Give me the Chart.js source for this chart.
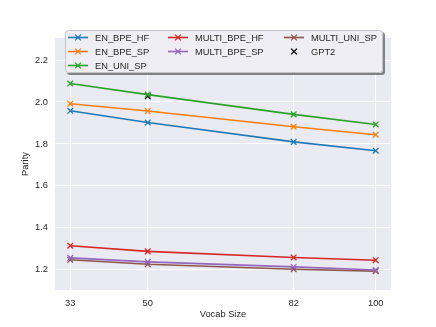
<!DOCTYPE html>
<html>
<head>
<meta charset="utf-8">
<script src="https://cdn.jsdelivr.net/npm/chart.js@4"></script>
<style>
html,body{margin:0;padding:0;background:#fff;}
#wrap{width:436px;height:327px;}
</style>
</head>
<body>
<div id="wrap"><canvas id="c" width="436" height="327"></canvas></div>
<script>
const vocab = [33, 50, 82, 100];
const EN_BPE_HF = [1.958, 1.902, 1.810, 1.768];
const EN_BPE_SP = [1.992, 1.957, 1.882, 1.844];
const EN_UNI_SP = [2.088, 2.035, 1.941, 1.893];
const MULTI_BPE_HF = [1.315, 1.288, 1.259, 1.246];
const MULTI_BPE_SP = [1.257, 1.238, 1.214, 1.199];
const MULTI_UNI_SP = [1.248, 1.227, 1.203, 1.194];
const GPT2_x = [50];
const GPT2_y = [2.027];
const yTicks = [1.2, 1.4, 1.6, 1.8, 2.0, 2.2];

const FONT = "'Liberation Sans', Arial, sans-serif";
const FS = 9.3;

function series(label, vals, color) {
  return {
    label: label,
    data: vals.map((v, i) => ({x: vocab[i], y: v})),
    borderColor: color,
    backgroundColor: color,
    borderWidth: 1.6,
    pointStyle: 'crossRot',
    pointRadius: 4,
    pointHoverRadius: 4,
    pointBorderWidth: 1.3,
    pointBorderColor: color,
    tension: 0,
    fill: false
  };
}

const datasets = [
  series('EN_BPE_HF', EN_BPE_HF, '#1f77b4'),
  series('EN_BPE_SP', EN_BPE_SP, '#ff7f0e'),
  series('EN_UNI_SP', EN_UNI_SP, '#2ca02c'),
  series('MULTI_BPE_HF', MULTI_BPE_HF, '#d62728'),
  series('MULTI_BPE_SP', MULTI_BPE_SP, '#9467bd'),
  series('MULTI_UNI_SP', MULTI_UNI_SP, '#8c564b'),
  Object.assign(series('GPT2', GPT2_y, '#000000'), {
    data: GPT2_x.map((x, i) => ({x: x, y: GPT2_y[i]})),
    showLine: false
  })
];

const bgPlugin = {
  id: 'bgPlugin',
  beforeDraw(chart) {
    const {ctx, chartArea: a} = chart;
    ctx.save();
    ctx.fillStyle = '#EAEAF2';
    ctx.fillRect(a.left, a.top, a.right - a.left, a.bottom - a.top);
    ctx.restore();
  }
};

const legendPlugin = {
  id: 'customLegend',
  afterDraw(chart) {
    const ctx = chart.ctx;
    const bx = 65, by = 30, bw = 318, bh = 43, r = 3;
    function rr(x, y, w, h) {
      ctx.beginPath();
      ctx.moveTo(x + r, y);
      ctx.lineTo(x + w - r, y);
      ctx.quadraticCurveTo(x + w, y, x + w, y + r);
      ctx.lineTo(x + w, y + h - r);
      ctx.quadraticCurveTo(x + w, y + h, x + w - r, y + h);
      ctx.lineTo(x + r, y + h);
      ctx.quadraticCurveTo(x, y + h, x, y + h - r);
      ctx.lineTo(x, y + r);
      ctx.quadraticCurveTo(x, y, x + r, y);
      ctx.closePath();
    }
    ctx.save();
    ctx.fillStyle = 'rgba(0,0,0,0.45)';
    rr(bx + 2, by + 2, bw, bh);
    ctx.fill();
    ctx.fillStyle = '#EEEEF4';
    rr(bx, by, bw, bh);
    ctx.fill();
    ctx.strokeStyle = '#c4c4c8';
    ctx.lineWidth = 1;
    rr(bx + 0.5, by + 0.5, bw - 1, bh - 1);
    ctx.stroke();

    const cols = [68, 168, 284];
    const rows = [37.5, 51.5, 65.5];
    const layout = [[0,0],[0,1],[0,2],[1,0],[1,1],[2,0],[2,1]];
    ctx.font = FS + 'px ' + FONT;
    ctx.textBaseline = 'middle';
    ctx.textAlign = 'left';
    chart.data.datasets.forEach((ds, i) => {
      const [c, rI] = layout[i];
      const x = cols[c], y = rows[rI];
      ctx.strokeStyle = ds.borderColor;
      if (ds.showLine !== false) {
        ctx.lineWidth = 1.6;
        ctx.beginPath();
        ctx.moveTo(x, y);
        ctx.lineTo(x + 20, y);
        ctx.stroke();
      }
      ctx.lineWidth = 1.3;
      const cx = x + 10, s = 2.9;
      ctx.beginPath();
      ctx.moveTo(cx - s, y - s); ctx.lineTo(cx + s, y + s);
      ctx.moveTo(cx + s, y - s); ctx.lineTo(cx - s, y + s);
      ctx.stroke();
      ctx.fillStyle = '#262626';
      ctx.fillText(ds.label, x + 27, y + 0.5);
    });
    ctx.restore();
  }
};

new Chart(document.getElementById('c'), {
  type: 'line',
  data: {datasets: datasets},
  plugins: [bgPlugin, legendPlugin],
  options: {
    responsive: false,
    animation: false,
    devicePixelRatio: 1,
    layout: {padding: {left: 0, right: 45, top: 38, bottom: 0}},
    plugins: {legend: {display: false}, tooltip: {enabled: false}},
    scales: {
      x: {
        type: 'linear',
        min: 29.65,
        max: 103.35,
        afterBuildTicks(scale) { scale.ticks = vocab.map(v => ({value: v})); },
        afterFit(scale) { scale.height = 37; },
        grid: {color: '#ffffff', lineWidth: 1, drawTicks: false},
        border: {display: false},
        ticks: {color: '#262626', font: {family: FONT, size: FS}, padding: 8, maxRotation: 0,
                callback: v => String(v)},
        title: {display: true, text: 'Vocab Size', color: '#262626',
                font: {family: FONT, size: FS}, padding: {top: 0, bottom: 7}}
      },
      y: {
        type: 'linear',
        min: 1.104,
        max: 2.305,
        afterBuildTicks(scale) { scale.ticks = yTicks.map(v => ({value: v})); },
        afterFit(scale) { scale.width = 55; },
        grid: {color: '#ffffff', lineWidth: 1, drawTicks: false},
        border: {display: false},
        ticks: {color: '#262626', font: {family: FONT, size: FS}, padding: 7,
                callback: v => Number(v).toFixed(1)},
        title: {display: true, text: 'Parity', color: '#262626',
                font: {family: FONT, size: FS}, padding: {top: 20, bottom: 0}}
      }
    }
  }
});
</script>
</body>
</html>
